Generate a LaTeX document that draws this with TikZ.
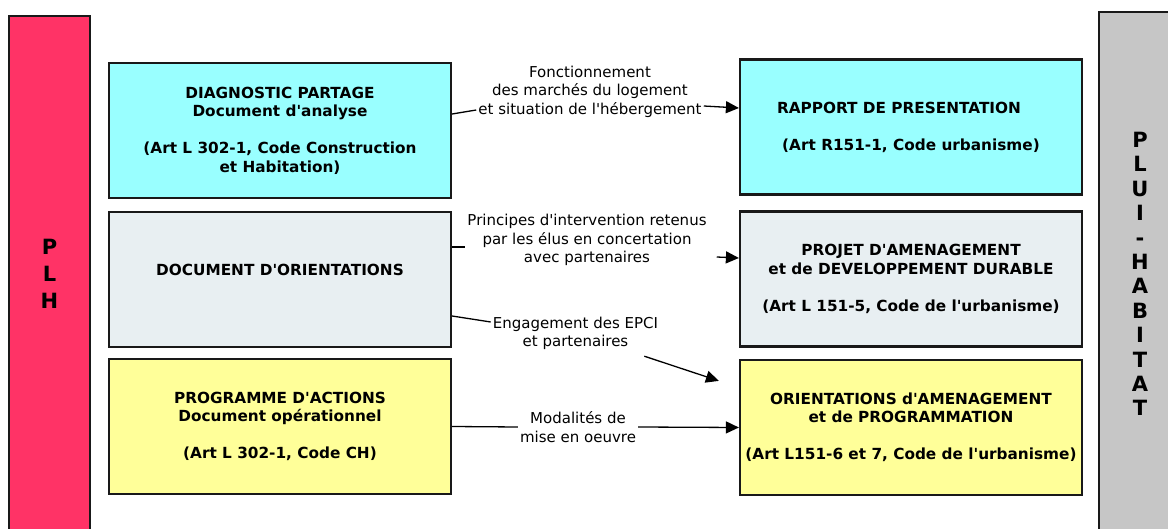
\documentclass[tikz,border=0pt]{standalone}
\usepackage{fontspec}
\setmainfont{DejaVu Sans}
\usetikzlibrary{arrows.meta,positioning}
\definecolor{plhred}{HTML}{FF3366}
\definecolor{diagcyan}{HTML}{99FFFF}
\definecolor{orientblue}{HTML}{E8EFF2}
\definecolor{progyellow}{HTML}{FFFF99}
\definecolor{pluigray}{HTML}{C6C6C6}
\newcommand{\ap}{\textquotesingle}
\tikzset{basic/.style={draw=black!90,line width=2.2pt,minimum width=342pt,minimum height=135pt,inner sep=0pt,align=center,font=\bfseries\fontsize{15.3}{18.5}\selectfont}}
\tikzset{diag/.style={basic,fill=diagcyan}}
\tikzset{orient/.style={basic,fill=orientblue}}
\tikzset{prog/.style={basic,fill=progyellow}}
\tikzset{side/.style={draw=black!90,line width=2.2pt}}
\tikzset{letters/.style={align=center,font=\bfseries\fontsize{21}{27}\selectfont}}
\tikzset{msg/.style={fill=white,inner sep=2pt,align=center,font=\fontsize{15}{18.5}\selectfont}}
\tikzset{link/.style={draw,line width=1.3pt}}
\tikzset{arrow/.style={link,-{Triangle[length=13pt,width=12pt]}}}

\begin{document}
\begin{tikzpicture}[x=1pt,y=-1pt]
    \useasboundingbox (0,0) rectangle (1168,529);
    \fill[white] (0,0) rectangle (1168,529);
    \begin{scope}
        \clip (0,0) rectangle (1168,529);
        \draw[side,fill=plhred] (9,16) rectangle (90,545);
        \draw[side,fill=pluigray] (1099,12) rectangle (1185,545);
    \end{scope}

    \node[letters] (plh) at (49.5,274) {P\\L\\H};
    \node[letters,font=\bfseries\fontsize{21}{24.4}\selectfont] (plui) at (1140,274) {P\\L\\U\\I\\-\\H\\A\\B\\I\\T\\A\\T};

    % PLH
    \node[diag] (diag) at (280,130.5) {DIAGNOSTIC PARTAGE\\Document d\ap analyse\\[18.5pt](Art L 302-1, Code Construction\\et Habitation)};
    \node[orient,below of=diag,node distance=149pt] (orient) {DOCUMENT D\ap ORIENTATIONS\\\mbox{}};
    \node[prog,below of=orient,node distance=147pt] (prog) {PROGRAMME D\ap ACTIONS\\Document opérationnel\\[18.5pt](Art L 302-1, Code CH)};

    % PLUi-H
    \node[diag] (rapport) at (911,127) {RAPPORT DE PRESENTATION\hspace*{24pt}\\[18.5pt](Art R151-1, Code urbanisme)};
    \node[orient,below of=rapport,node distance=152pt] (padd) {PROJET D\ap AMENAGEMENT\\et de DEVELOPPEMENT DURABLE\\[18.5pt](Art L 151-5, Code de l\ap urbanisme)};
    \node[prog,below of=padd,node distance=148.5pt] (oap) {ORIENTATIONS d\ap AMENAGEMENT\\et de PROGRAMMATION\\[18.5pt](Art L151-6 et 7, Code de l\ap urbanisme)};

    \node[msg] (fonct) at (590,91.5) {Fonctionnement\\des marchés du logement\\et situation de l\ap hébergement};
    \node[msg] (princ) at (587,240) {Principes d\ap intervention retenus\\par les élus en concertation\\avec partenaires};
    \node[msg] (engag) at (575.5,333.5) {Engagement des EPCI\\et partenaires};
    \node[msg] (modal) at (578,427) {Modalités de\\mise en oeuvre};

        \path[link] ([yshift=16.5pt]diag.east) -- ([yshift=-18.5pt]fonct.west);
        \path[arrow] ([yshift=-14.5pt]fonct.east) -- ([yshift=19pt]rapport.west);
        \path[link] ([yshift=32.5pt]orient.east) -- ([yshift=-7pt]princ.west);
        \path[arrow] ([xshift=8pt,yshift=-17pt]princ.east) -- ([yshift=21pt]padd.west);
        \path[link] ([yshift=-36.5pt]orient.east) -- ([yshift=11.5pt]engag.west);
        \path[arrow] ([xshift=-16pt,yshift=-4pt]engag.south east) -- ([xshift=-20pt,yshift=-22pt]oap.north west);
        \path[link] (prog.east) -- (modal.west);
        \path[arrow] (modal.east) -- (oap.west);
\end{tikzpicture}
\end{document}
